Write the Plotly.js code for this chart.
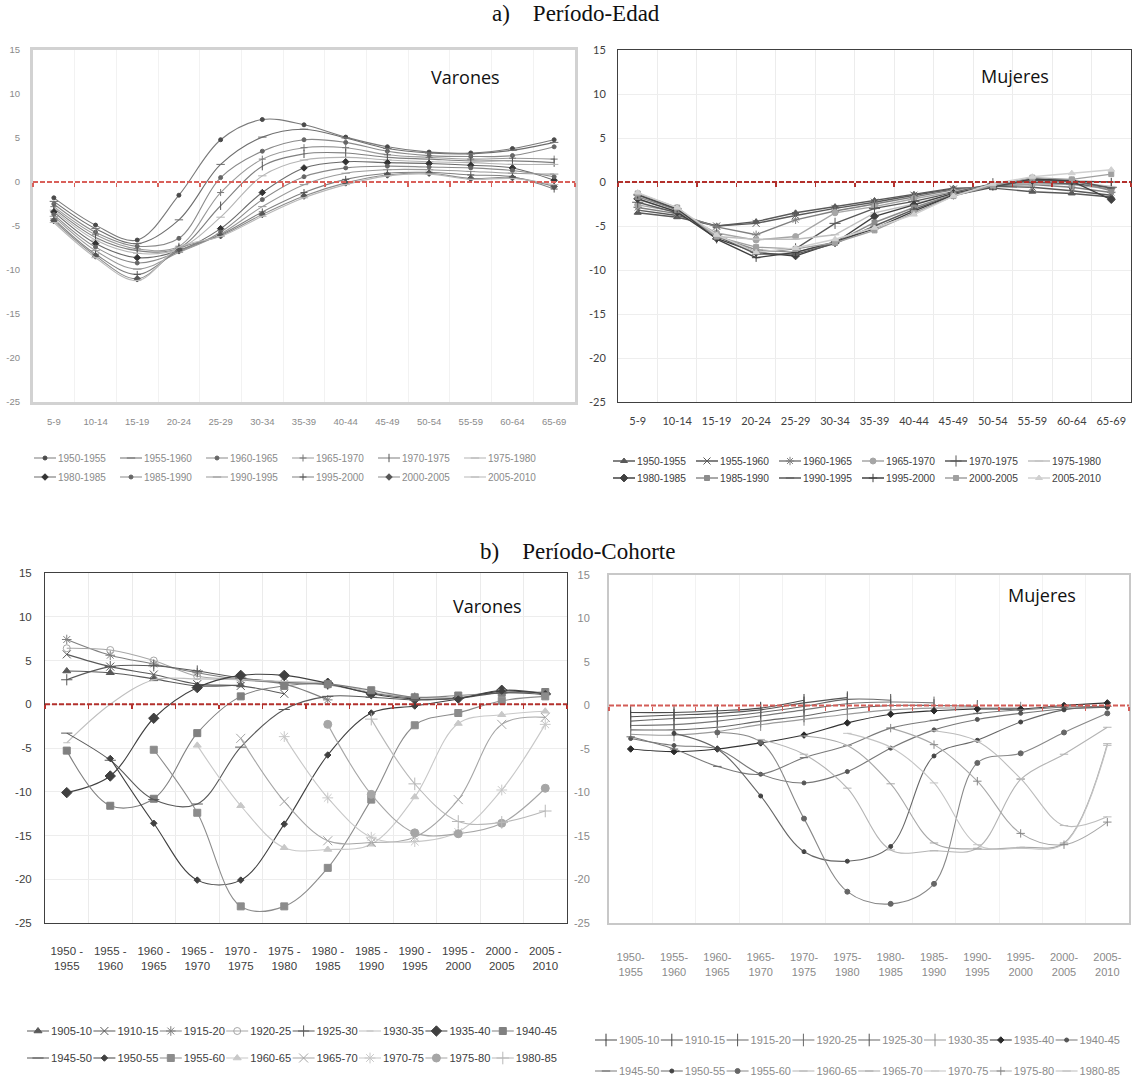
<!DOCTYPE html>
<html><head><meta charset="utf-8">
<script src="https://cdn.plot.ly/plotly-3.0.1.min.js"></script>
<style>
body{margin:0;background:#fff}
#chart{width:1132px;height:1086px}
/* Excel-like compact legend keys: shorter key line, text closer to it (all legends) */
#chart g.traces .legendlines path{transform-box:fill-box;transform-origin:center;transform:scaleX(0.733)}
#chart g.traces > g.layers{transform:translateX(-9px)}
#chart g.traces > text{transform:translateX(-16px)}
</style>
</head><body><div id="chart"></div>
<script>
// ---------- categories / labels ----------
const ageGroups = ['5-9','10-14','15-19','20-24','25-29','30-34','35-39','40-44','45-49','50-54','55-59','60-64','65-69'];
const periodNames = ['1950-1955','1955-1960','1960-1965','1965-1970','1970-1975','1975-1980','1980-1985','1985-1990','1990-1995','1995-2000','2000-2005','2005-2010'];
const periodTicksLeft = ['1950 -<br>1955','1955 -<br>1960','1960 -<br>1965','1965 -<br>1970','1970 -<br>1975','1975 -<br>1980','1980 -<br>1985','1985 -<br>1990','1990 -<br>1995','1995 -<br>2000','2000 -<br>2005','2005 -<br>2010'];
const periodTicksRight = ['1950-<br>1955','1955-<br>1960','1960-<br>1965','1965-<br>1970','1970-<br>1975','1975-<br>1980','1980-<br>1985','1985-<br>1990','1990-<br>1995','1995-<br>2000','2000-<br>2005','2005-<br>2010'];
const cohortNames = ['1905-10','1910-15','1915-20','1920-25','1925-30','1930-35','1935-40','1940-45','1945-50','1950-55','1955-60','1960-65','1965-70','1970-75','1975-80','1980-85'];
const yTickVals = [15,10,5,0,-5,-10,-15,-20,-25];
const yTickText = ['15','10','5','0','-5','-10','-15','-20','-25'];

// ---------- values: a) Período-Edad, Varones (one row per period) ----------
const varonesEdad = [
  [-1.8,-4.9,-6.6,-1.5,4.8,7.1,6.5,5.1,4.0,3.4,3.3,3.8,4.8],
  [-2.2,-5.3,-7.0,-4.3,2.0,5.1,6.0,5.0,3.8,3.3,3.2,3.6,4.5],
  [-2.5,-5.7,-7.3,-6.4,0.5,3.5,4.8,4.5,3.5,3.0,2.9,3.0,4.0],
  [-2.8,-6.0,-7.6,-7.3,-1.2,2.6,3.9,3.9,3.1,2.8,2.6,2.7,2.6],
  [-3.0,-6.3,-7.8,-7.5,-2.7,1.8,3.2,3.3,2.8,2.6,2.4,2.4,2.2],
  [-3.2,-6.6,-8.1,-7.6,-4.0,0.7,2.5,2.8,2.5,2.3,2.2,2.0,2.0],
  [-3.4,-7.0,-8.6,-7.8,-5.3,-1.2,1.6,2.3,2.2,2.1,1.9,1.6,0.2],
  [-3.7,-7.4,-9.2,-7.9,-5.7,-2.0,0.6,1.6,1.8,1.7,1.6,1.3,0.6],
  [-3.9,-7.8,-9.9,-8.0,-5.9,-2.8,-0.3,1.0,1.4,1.4,1.2,1.0,0.9],
  [-4.2,-8.2,-10.5,-7.8,-6.0,-3.4,-1.2,0.3,1.0,1.1,0.8,0.6,-0.8],
  [-4.4,-8.4,-11.0,-7.6,-6.1,-3.7,-1.6,-0.1,0.8,1.0,0.4,0.5,-0.5],
  [-4.6,-8.6,-11.2,-7.4,-6.2,-3.9,-1.8,-0.3,0.7,0.9,0.3,0.4,-0.3]
];
// ---------- a) Período-Edad, Mujeres ----------
const mujeresEdad = [
  [-3.5,-4.0,-5.0,-4.5,-3.5,-2.8,-2.1,-1.4,-0.7,-0.7,-1.1,-1.3,-1.7],
  [-3.2,-3.8,-5.0,-4.7,-3.8,-3.0,-2.3,-1.5,-0.8,-0.5,-0.6,-1.0,-1.5],
  [-2.9,-3.6,-5.1,-6.0,-4.3,-3.3,-2.5,-1.7,-0.9,-0.4,-0.3,-0.6,-1.2],
  [-2.6,-3.4,-5.8,-6.6,-6.2,-3.5,-2.8,-1.9,-1.1,-0.3,-0.2,-0.3,-0.8],
  [-2.3,-3.5,-6.0,-8.0,-7.6,-4.7,-3.0,-2.2,-1.2,-0.2,0.0,-0.2,-0.6],
  [-2.0,-3.3,-6.2,-6.5,-6.5,-6.0,-3.5,-2.5,-1.3,-0.3,0.1,0.0,-0.5],
  [-1.9,-3.4,-6.4,-8.0,-8.4,-6.9,-3.9,-2.6,-1.3,-0.4,0.2,0.1,-2.0],
  [-1.7,-3.2,-6.2,-7.7,-8.0,-6.9,-4.6,-2.9,-1.4,-0.5,0.3,0.2,-1.0],
  [-1.5,-3.1,-6.1,-8.2,-8.2,-7.0,-5.0,-3.1,-1.5,-0.6,0.3,0.2,-0.7],
  [-1.4,-3.0,-6.5,-8.6,-8.0,-6.8,-5.3,-3.3,-1.5,-0.5,0.4,0.1,0.0],
  [-1.3,-2.9,-6.2,-7.4,-7.6,-6.9,-5.5,-3.5,-1.6,-0.4,0.5,0.3,0.9],
  [-1.2,-2.9,-6.0,-8.0,-7.5,-6.5,-5.2,-3.7,-1.6,-0.2,0.6,1.0,1.4]
];
// ---------- b) Período-Cohorte, Varones (one row per cohort) ----------
const varonesCohorte = [
  [3.8,3.6,2.9,2.1,2.2,null,null,null,null,null,null,null],
  [5.7,4.3,3.4,2.3,2.1,1.2,null,null,null,null,null,null],
  [7.4,5.6,4.6,3.6,2.8,2.3,0.5,null,null,null,null,null],
  [6.4,6.2,5.0,3.2,2.9,2.5,2.2,1.2,null,null,null,null],
  [2.8,4.3,4.4,3.8,3.0,2.5,2.3,1.3,0.7,null,null,null],
  [-4.4,0.0,2.8,2.9,2.8,2.6,2.4,1.4,0.8,0.8,null,null],
  [-10.1,-8.2,-1.6,1.9,3.3,3.3,2.4,1.2,0.6,0.7,1.6,1.2],
  [-5.3,-11.6,-10.8,-3.3,0.9,2.1,2.3,1.6,0.8,1.0,1.3,1.4],
  [-3.3,-6.4,-10.9,-11.4,-4.9,-0.6,0.9,0.8,0.5,0.7,1.3,1.1],
  [null,-6.2,-13.6,-20.1,-20.1,-13.7,-5.8,-1.0,-0.2,0.6,1.5,1.2],
  [null,null,-5.2,-12.4,-23.1,-23.1,-18.7,-10.9,-2.4,-1.0,0.4,0.9],
  [null,null,null,-4.7,-11.6,-16.4,-16.6,-16.0,-10.6,-2.2,-1.2,-0.8],
  [null,null,null,null,-3.9,-11.1,-15.6,-15.8,-15.2,-10.9,-2.3,-1.5],
  [null,null,null,null,null,-3.7,-10.7,-15.2,-15.7,-14.6,-9.8,-2.3],
  [null,null,null,null,null,null,-2.3,-10.3,-14.7,-14.8,-13.6,-9.6],
  [null,null,null,null,null,null,null,-1.7,-9.1,-13.4,-13.5,-12.2]
];
// ---------- b) Período-Cohorte, Mujeres ----------
const mujeresCohorte = [
  [-0.8,-0.8,-0.6,-0.3,0.6,null,null,null,null,null,null,null],
  [-1.3,-1.1,-0.9,-0.5,0.3,0.9,null,null,null,null,null,null],
  [-1.8,-1.5,-1.3,-0.8,-0.1,0.7,0.6,null,null,null,null,null],
  [-2.3,-2.2,-1.8,-1.2,-0.5,0.2,0.4,0.3,null,null,null,null],
  [-2.8,-2.8,-2.5,-1.8,-1.2,-0.4,0.0,0.0,-0.1,null,null,null],
  [-3.3,-3.4,-3.0,-2.2,-1.6,-1.0,-0.5,-0.3,-0.3,-0.3,null,null],
  [-5.0,-5.3,-5.0,-4.3,-3.4,-2.0,-1.0,-0.6,-0.4,-0.4,0.0,0.3],
  [-3.8,-4.6,-5.0,-7.9,-8.9,-7.6,-4.9,-2.8,-1.6,-0.9,-0.4,-0.2],
  [-3.6,-5.0,-7.0,-7.9,-6.0,-4.6,-2.6,-1.7,-0.9,-0.5,-0.2,-0.1],
  [null,-3.2,-5.0,-10.4,-16.8,-17.9,-16.2,-5.8,-4.0,-1.9,-0.5,-0.2],
  [null,null,-3.1,-4.2,-13.0,-21.4,-22.8,-20.5,-6.6,-5.5,-3.1,-0.9],
  [null,null,null,-3.9,-5.6,-9.5,-16.6,-16.7,-16.4,-8.5,-5.6,-2.5],
  [null,null,null,null,-3.5,-4.6,-9.0,-15.8,-16.5,-16.3,-15.8,-4.4],
  [null,null,null,null,null,-3.2,-4.8,-8.9,-16.0,-16.4,-15.9,-4.6],
  [null,null,null,null,null,null,-2.6,-4.5,-8.7,-14.7,-16.0,-13.4],
  [null,null,null,null,null,null,null,-2.9,-4.1,-8.4,-13.8,-12.8]
];

// ---------- styles (kept apart from the values) ----------
const styleVE = {
  symbols:['circle','line-ew','circle','cross-thin','line-ns','line-ew','diamond','circle','line-ew','cross-thin','diamond','line-ew'],
  sizes:[4,6,4,5,6,6,5,4,6,5,5,6],
  lineColors:['#7a7a7a','#6e6e6e','#8a8a8a','#9a9a9a','#7f7f7f','#b4b4b4','#6a6a6a','#8a8a8a','#9a9a9a','#808080','#8c8c8c','#b8b8b8'],
  markerColors:['#4a4a4a','#6e6e6e','#666666','#777777','#555555','#b4b4b4','#333333','#666666','#9a9a9a','#555555','#555555','#b8b8b8'],
  width:1.1
};
const styleME = {
  symbols:['triangle-up','x-thin','asterisk','circle','cross-thin','line-ew','diamond','square','line-ew','cross-thin','square','triangle-up'],
  sizes:[6,7,7,6,8,6,6,5,6,6,5,6],
  lineColors:['#595959','#595959','#7f7f7f','#a6a6a6','#595959','#bfbfbf','#404040','#8c8c8c','#595959','#404040','#a0a0a0','#d0d0d0'],
  markerColors:['#595959','#595959','#7f7f7f','#a6a6a6','#595959','#bfbfbf','#404040','#8c8c8c','#595959','#404040','#a0a0a0','#d0d0d0'],
  width:1.4
};
const styleVC = {
  symbols:['triangle-up','x-thin','asterisk','circle-open','cross-thin','line-ew','diamond','square','line-ew','diamond','square','triangle-up','x-thin','asterisk','circle','cross-thin'],
  sizes:[7,8,8,7,8,5,8,7,8,5,7,7,9,9,8,9],
  lineColors:['#595959','#595959','#7f7f7f','#a6a6a6','#595959','#bfbfbf','#404040','#808080','#595959','#404040','#8c8c8c','#c8c8c8','#a6a6a6','#c8c8c8','#a6a6a6','#b8b8b8'],
  markerColors:['#595959','#595959','#7f7f7f','#a6a6a6','#595959','#bfbfbf','#404040','#808080','#595959','#404040','#8c8c8c','#c8c8c8','#a6a6a6','#c8c8c8','#a6a6a6','#b8b8b8'],
  width:1.1
};
const styleMC = {
  symbols:['line-ns','line-ns','line-ns','line-ns','line-ns','line-ns','diamond','circle','line-ew','circle','circle','line-ew','line-ew','line-ew','cross-thin','line-ew'],
  sizes:[9,9,9,9,9,9,5,4,6,4,5,6,6,6,6,6],
  lineColors:['#4a4a4a','#555555','#666666','#777777','#666666','#9a9a9a','#333333','#777777','#7a7a7a','#666666','#888888','#b4b4b4','#a8a8a8','#c4c4c4','#a8a8a8','#bcbcbc'],
  markerColors:['#3a3a3a','#444444','#555555','#666666','#555555','#8a8a8a','#2a2a2a','#555555','#6a6a6a','#444444','#666666','#b4b4b4','#a8a8a8','#c4c4c4','#888888','#bcbcbc'],
  width:1.1
};

// ---------- geometry (pixels of the 1132x1086 page) ----------
const W = 1132, H = 1086;
const fx = v => v / W;
const fy = v => 1 - v / H;
const SANS = 'Liberation Sans, Arial, sans-serif';

const panels = [
  {cats: ageGroups, data: varonesEdad, names: periodNames, style: styleVE, shape:'spline',
   px:[33,575], py:[50,402], frame:{color:'#d2d2d2', width:3}, grid:{x:'#f2f2f2', y:'rgba(0,0,0,0)'},
   tickFont:{family:SANS, size:9.5, color:'#8a8a8a'},
   xStand:9, yStand:8, red:'#d9605a',
   legendRows:[{id:'legend', y:458},{id:'legend2', y:477}], legendX:34, entry:86, perRow:6,
   legendFont:{family:SANS, size:10, color:'#8a8a8a'},
   label:{text:'Varones', x:465, y:77}},
  {cats: ageGroups, data: mujeresEdad, names: periodNames, style: styleME, shape:'linear',
   px:[618,1131], py:[50,402], frame:{color:'#404040', width:1}, grid:{x:'#ececec', y:'#eeeeee'},
   tickFont:{family:'Lato, sans-serif', size:11, color:'#404040'},
   xStand:9, yStand:9, red:'#b3302c',
   legendRows:[{id:'legend3', y:461},{id:'legend4', y:478}], legendX:613, entry:83, perRow:6,
   legendFont:{family:SANS, size:10.25, color:'#404040'},
   label:{text:'Mujeres', x:1015, y:76}},
  {cats: periodTicksLeft, data: varonesCohorte, names: cohortNames, style: styleVC, shape:'spline',
   px:[45,567], py:[573,923], frame:{color:'#404040', width:1}, grid:{x:'#ebebeb', y:'#ededed'},
   tickFont:{family:SANS, size:11.5, color:'#404040'},
   xStand:17, yStand:10, red:'#b3302c',
   legendRows:[{id:'legend5', y:1031},{id:'legend6', y:1058}], legendX:27, entry:66.4, perRow:8,
   legendFont:{family:SANS, size:11.2, color:'#404040'},
   label:{text:'Varones', x:487, y:606}},
  {cats: periodTicksRight, data: mujeresCohorte, names: cohortNames, style: styleMC, shape:'spline',
   px:[609,1129], py:[575,923], frame:{color:'#c8c8c8', width:2}, grid:{x:'#f2f2f2', y:'rgba(0,0,0,0)'},
   tickFont:{family:SANS, size:11, color:'#8a8a8a'},
   xStand:23, yStand:15, red:'#d35c57',
   legendRows:[{id:'legend7', y:1040},{id:'legend8', y:1071}], legendX:595, entry:65.8, perRow:8,
   legendFont:{family:SANS, size:11, color:'#8a8a8a'},
   label:{text:'Mujeres', x:1042, y:595}}
];

const traces = [];
const layout = {
  width: W, height: H, margin:{l:0,r:0,t:0,b:0,pad:0,autoexpand:false},
  paper_bgcolor:'#ffffff', plot_bgcolor:'#ffffff',
  font:{family:'Lato, sans-serif', color:'#404040'},
  shapes: [], annotations: [], hovermode:false
};

panels.forEach((p, k) => {
  const sfx = k === 0 ? '' : String(k + 1);
  const xa = 'x' + sfx, ya = 'y' + sfx;
  const n = p.cats.length;
  const yDom = [fy(p.py[1]), fy(p.py[0])];
  layout['xaxis' + sfx] = {
    domain:[fx(p.px[0]), fx(p.px[1])], anchor: ya, type:'category',
    categoryorder:'array', categoryarray: p.cats, range:[-0.5, n - 0.5],
    tickson:'boundaries', ticks:'', tickangle:0, showgrid:true, gridcolor:p.grid.x, gridwidth:1,
    showline:true, linecolor:p.frame.color, linewidth:p.frame.width, mirror:true,
    tickfont:p.tickFont, ticklabelstandoff:p.xStand, zeroline:false, fixedrange:true, automargin:false
  };
  layout['yaxis' + sfx] = {
    domain: yDom, anchor: xa, range:[-25, 15], tickmode:'array',
    tickvals: yTickVals, ticktext: yTickText, ticks:'', showgrid:true, gridcolor:p.grid.y,
    showline:true, linecolor:p.frame.color, linewidth:p.frame.width, mirror:true,
    tickfont:p.tickFont, ticklabelstandoff:p.yStand, zeroline:false, fixedrange:true, automargin:false
  };
  // overlay axis that carries the small red ticks on the zero line
  const ox = 'x' + (k + 5);
  const zeroPos = yDom[0] + (0 - (-25)) / 40 * (yDom[1] - yDom[0]);
  const bounds = [];
  for (let i = 0; i <= n; i++) bounds.push(i - 0.5);
  layout['xaxis' + (k + 5)] = {
    overlaying: xa, anchor:'free', position: zeroPos, type:'linear', range:[-0.5, n - 0.5],
    tickmode:'array', tickvals: bounds, ticks:'outside', ticklen:4, tickwidth:1.5,
    tickcolor:p.red, showticklabels:false, showgrid:false, zeroline:false, showline:false, fixedrange:true
  };
  traces.push({type:'scatter', mode:'markers', x:[0], y:[null], xaxis:ox, yaxis:ya,
    showlegend:false, hoverinfo:'skip', marker:{opacity:0}});

  layout.shapes.push({type:'line', xref: xa + ' domain', x0:0, x1:1, yref: ya, y0:0, y1:0,
    line:{color:p.red, width:2, dash:'5px,2px'}, layer:'above'});

  p.data.forEach((row, i) => {
    const st = p.style;
    traces.push({
      type:'scatter', mode:'lines+markers', name:p.names[i],
      x:p.cats, y:row, xaxis:xa, yaxis:ya,
      legend: i < p.perRow ? p.legendRows[0].id : p.legendRows[1].id,
      connectgaps:false, hoverinfo:'skip', cliponaxis:true,
      line:{color:st.lineColors[i], width:st.width, shape:p.shape, smoothing:1},
      marker:{symbol:st.symbols[i], size:st.sizes[i], color:st.markerColors[i],
              line:{color:st.markerColors[i], width:1}}
    });
  });

  p.legendRows.forEach(r => {
    layout[r.id] = {
      orientation:'h', x:fx(p.legendX), xanchor:'left', y:fy(r.y), yanchor:'middle',
      xref:'paper', yref:'paper', font:p.legendFont, bgcolor:'rgba(0,0,0,0)',
      entrywidth:p.entry - 45, entrywidthmode:'pixels', itemwidth:30,
      traceorder:'normal', itemclick:false, itemdoubleclick:false
    };
  });

  layout.annotations.push({text:p.label.text, xref:'paper', yref:'paper',
    x:fx(p.label.x), y:fy(p.label.y), xanchor:'center', yanchor:'middle', showarrow:false,
    font:{family:'Open Sans, Lato, sans-serif', size:18, color:'#111111'}});
});

layout.annotations.push({text:'a)&nbsp;&nbsp;&nbsp;&nbsp;Período-Edad', xref:'paper', yref:'paper',
  x:fx(576), y:fy(14), xanchor:'center', yanchor:'middle', showarrow:false,
  font:{family:'Liberation Serif, DejaVu Serif, serif', size:23, color:'#111111'}});
layout.annotations.push({text:'b)&nbsp;&nbsp;&nbsp;&nbsp;Período-Cohorte', xref:'paper', yref:'paper',
  x:fx(577), y:fy(551), xanchor:'center', yanchor:'middle', showarrow:false,
  font:{family:'Liberation Serif, DejaVu Serif, serif', size:23, color:'#111111'}});

Plotly.newPlot('chart', traces, layout, {displayModeBar:false, staticPlot:true});
</script>
</body></html>
